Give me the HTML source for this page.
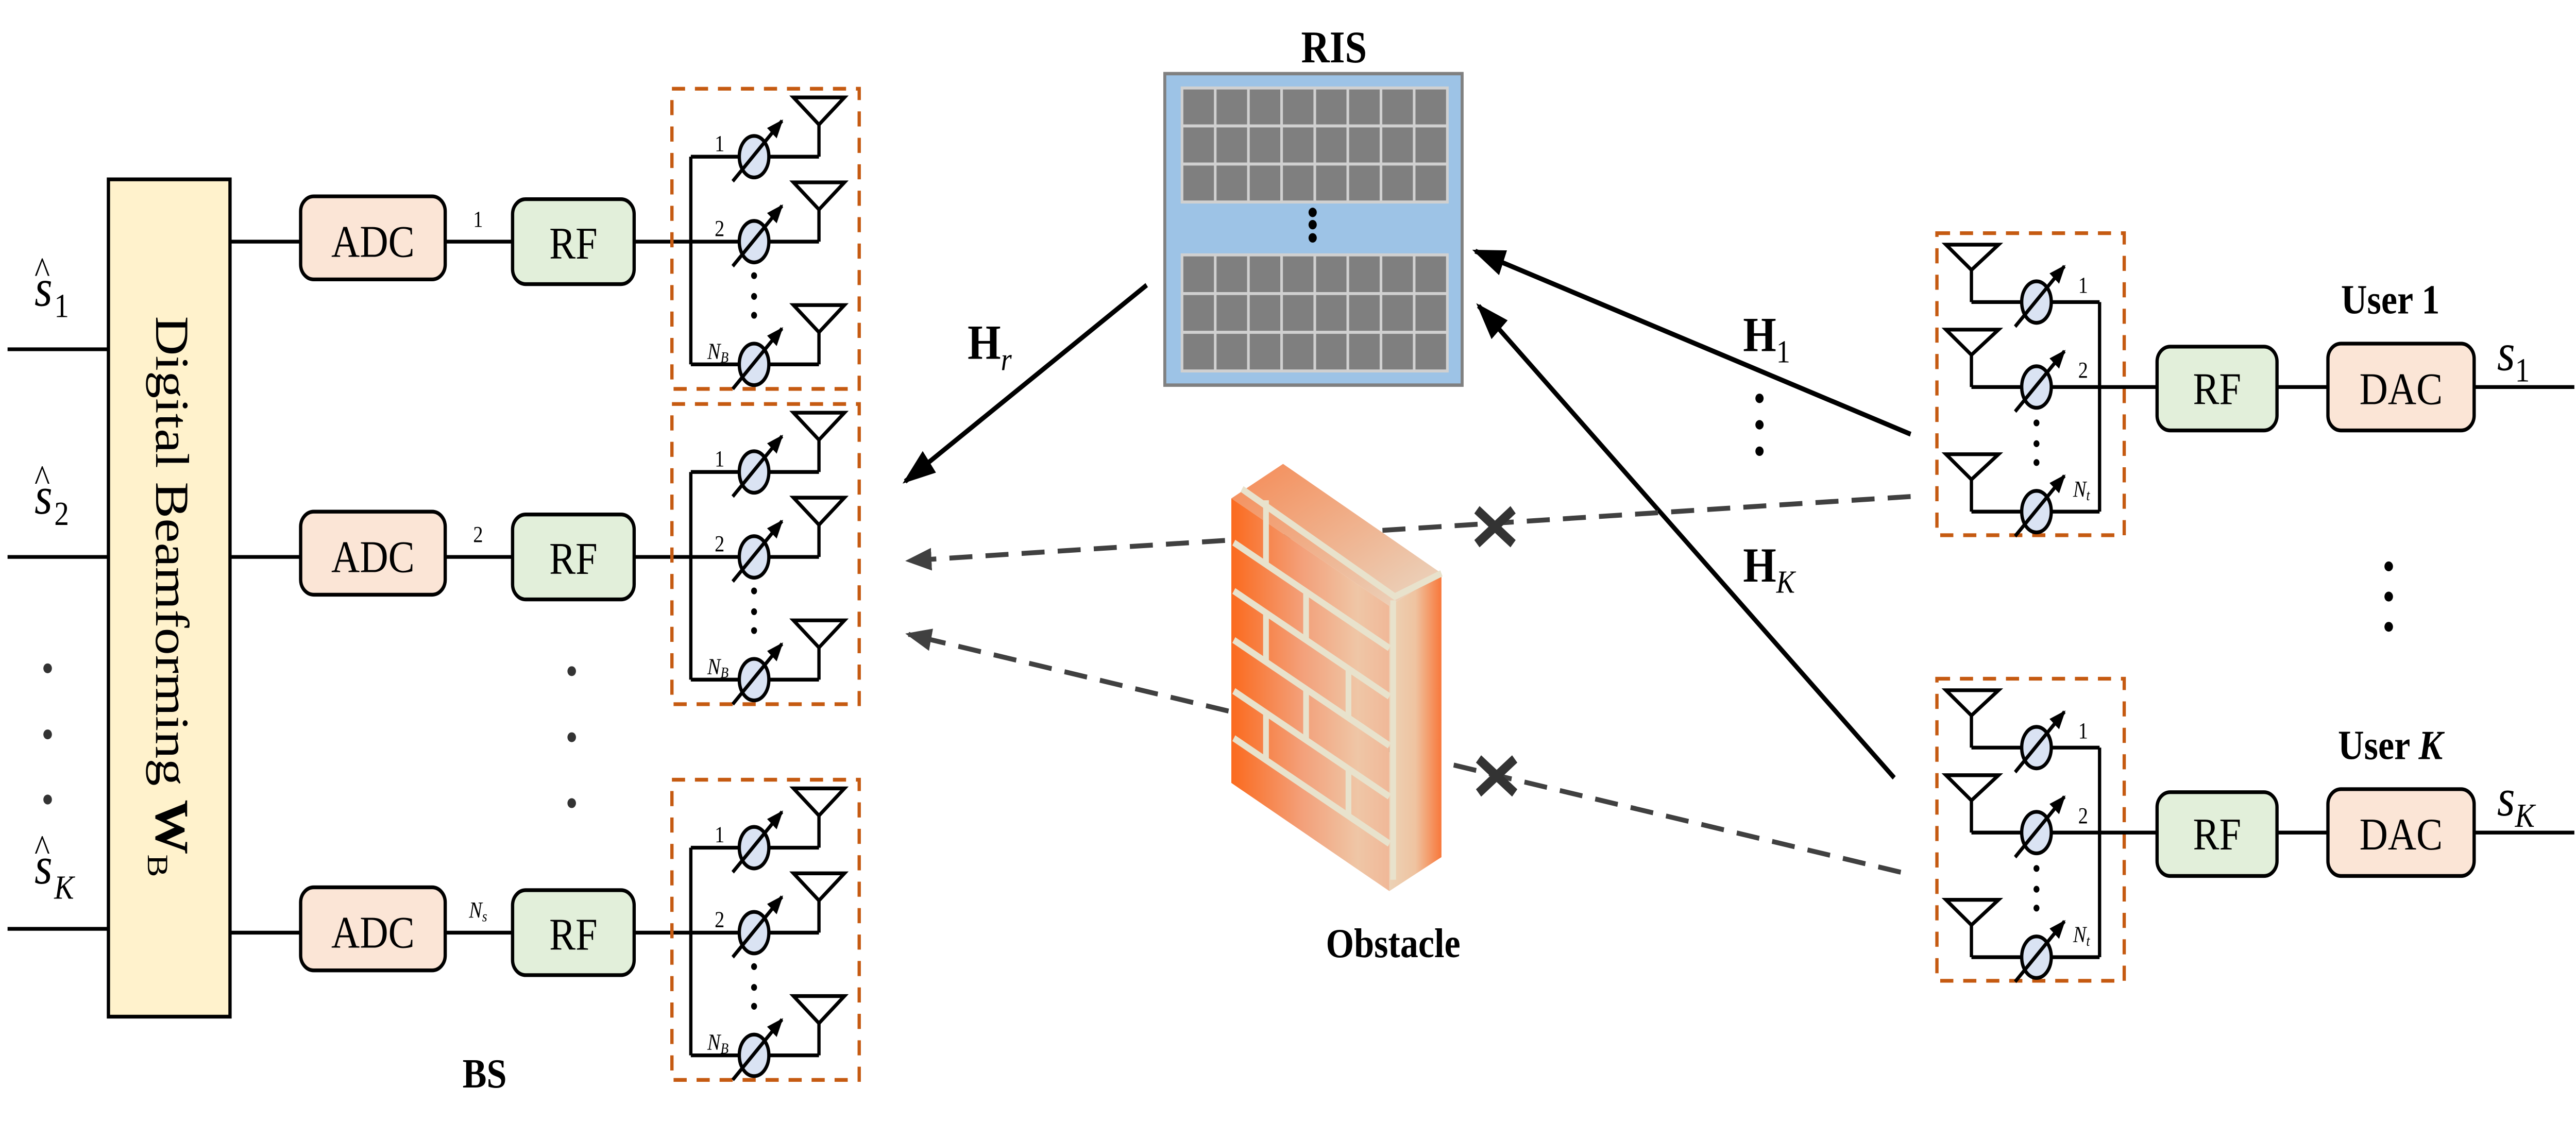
<!DOCTYPE html>
<html><head><meta charset="utf-8"><style>
html,body{margin:0;padding:0;background:#fff;width:100%;height:100%;overflow:hidden;}
svg{display:block;width:100vw;height:100vh;}
text{font-family:"Liberation Serif",serif;fill:#000;}
</style></head><body>
<svg viewBox="0 0 1568 594.3" preserveAspectRatio="none" xmlns="http://www.w3.org/2000/svg">
<defs>
<marker id="ah" markerUnits="userSpaceOnUse" markerWidth="20" markerHeight="14" refX="18" refY="7" orient="auto"><path d="M0,0 L20,7 L0,14 z" fill="#000"/></marker>
<marker id="ahd" markerUnits="userSpaceOnUse" markerWidth="16" markerHeight="12" refX="14" refY="6" orient="auto"><path d="M0,0 L16,6 L0,12 z" fill="#404040"/></marker>
<marker id="ahs" markerUnits="userSpaceOnUse" markerWidth="10" markerHeight="8" refX="9" refY="4" orient="auto"><path d="M0,0 L10,4 L0,8 z" fill="#000"/></marker>
<linearGradient id="gf" x1="0" y1="0" x2="1" y2="0"><stop offset="0" stop-color="#fb6a1e"/><stop offset="0.45" stop-color="#f3a07a"/><stop offset="0.8" stop-color="#efc6a6"/><stop offset="1" stop-color="#f0b898"/></linearGradient>
<linearGradient id="gs" x1="0" y1="0" x2="1" y2="0"><stop offset="0" stop-color="#ecd2b6"/><stop offset="0.5" stop-color="#efc3a0"/><stop offset="1" stop-color="#f8773a"/></linearGradient>
<linearGradient id="gt" x1="0" y1="0" x2="1" y2="1"><stop offset="0" stop-color="#f58a55"/><stop offset="1" stop-color="#ead8c4"/></linearGradient>
<g id="ps"><ellipse cx="0" cy="0" rx="9" ry="11" fill="#dae3f3" stroke="#000" stroke-width="2"/><line x1="-13" y1="13" x2="17" y2="-19" stroke="#000" stroke-width="2" marker-end="url(#ahs)"/></g>
<g id="bsant">
<rect x="409" y="47" width="114" height="159" fill="none" stroke="#c55a11" stroke-width="2" stroke-dasharray="8,6"/>
<line x1="420.5" y1="83" x2="420.5" y2="193" stroke="#000" stroke-width="2"/>
<g stroke="#000" stroke-width="2" fill="none">
<line x1="420.5" y1="83" x2="498.5" y2="83"/><line x1="498.5" y1="83" x2="498.5" y2="66"/><path d="M483,51.6 L514,51.6 L498.5,66 z"/>
<line x1="420.5" y1="128" x2="498.5" y2="128"/><line x1="498.5" y1="128" x2="498.5" y2="111"/><path d="M483,96.6 L514,96.6 L498.5,111 z"/>
<line x1="420.5" y1="193" x2="498.5" y2="193"/><line x1="498.5" y1="193" x2="498.5" y2="176"/><path d="M483,161.6 L514,161.6 L498.5,176 z"/>
</g>
<use href="#ps" x="459" y="83"/><use href="#ps" x="459" y="128"/><use href="#ps" x="459" y="193"/>
<circle cx="459" cy="146" r="1.8"/><circle cx="459" cy="157" r="1.8"/><circle cx="459" cy="167" r="1.8"/>
</g>
<g id="uant">
<rect x="1179" y="123.5" width="114" height="160" fill="none" stroke="#c55a11" stroke-width="2" stroke-dasharray="8,6"/>
<line x1="1278" y1="160" x2="1278" y2="271" stroke="#000" stroke-width="2"/>
<g stroke="#000" stroke-width="2" fill="none">
<line x1="1200" y1="160" x2="1278" y2="160"/><line x1="1200" y1="160" x2="1200" y2="143"/><path d="M1184.5,129.6 L1216.5,129.6 L1200,143 z"/>
<line x1="1200" y1="205" x2="1278" y2="205"/><line x1="1200" y1="205" x2="1200" y2="188"/><path d="M1184.5,174.6 L1216.5,174.6 L1200,188 z"/>
<line x1="1200" y1="271" x2="1278" y2="271"/><line x1="1200" y1="271" x2="1200" y2="254"/><path d="M1184.5,240.6 L1216.5,240.6 L1200,254 z"/>
<line x1="1278" y1="205" x2="1313" y2="205"/>
<line x1="1386" y1="205" x2="1417" y2="205"/>
<line x1="1506" y1="205" x2="1567" y2="205"/>
</g>
<use href="#ps" x="1239.6" y="160"/><use href="#ps" x="1239.6" y="205"/><use href="#ps" x="1239.6" y="271"/>
<circle cx="1239.6" cy="224" r="1.8"/><circle cx="1239.6" cy="235" r="1.8"/><circle cx="1239.6" cy="245" r="1.8"/>
<rect x="1313" y="183.6" width="73" height="44.4" rx="8" fill="#e2efda" stroke="#000" stroke-width="2"/>
<rect x="1417" y="182" width="89" height="46" rx="8" fill="#fbe5d6" stroke="#000" stroke-width="2"/>
</g>
<g id="bsrow">
<g stroke="#000" stroke-width="2"><line x1="140" y1="128" x2="183" y2="128"/><line x1="271" y1="128" x2="312" y2="128"/><line x1="386" y1="128" x2="420.5" y2="128"/></g>
<rect x="183" y="104" width="88" height="44" rx="8" fill="#fbe5d6" stroke="#000" stroke-width="2"/>
<rect x="312" y="105.5" width="74" height="45" rx="8" fill="#e2efda" stroke="#000" stroke-width="2"/>
</g>
</defs>

<g stroke="#000" stroke-width="2"><line x1="4.6" y1="185" x2="67" y2="185"/><line x1="4.6" y1="295" x2="67" y2="295"/><line x1="4.6" y1="492" x2="67" y2="492"/></g>
<circle cx="29" cy="354" r="2.6" fill="#333"/><circle cx="29" cy="389" r="2.6" fill="#333"/><circle cx="29" cy="423.5" r="2.6" fill="#333"/>
<circle cx="348" cy="355.5" r="2.6" fill="#333"/><circle cx="348" cy="390.5" r="2.6" fill="#333"/><circle cx="348" cy="425.4" r="2.6" fill="#333"/>

<rect x="66" y="95" width="74" height="443.5" fill="#fff2cc" stroke="#000" stroke-width="2"/>
<text transform="translate(95,316) rotate(90)" font-size="29" text-anchor="middle">Digital Beamforming <tspan font-weight="bold">W</tspan><tspan font-size="18" dy="5">B</tspan></text>

<text x="21" y="162" font-size="28" font-style="italic">s</text><text x="21" y="150" font-size="20">^</text><text x="33" y="168" font-size="18">1</text>
<text x="21" y="272" font-size="28" font-style="italic">s</text><text x="21" y="260" font-size="20">^</text><text x="33" y="278" font-size="18">2</text>
<text x="21" y="468" font-size="28" font-style="italic">s</text><text x="21" y="456" font-size="20">^</text><text x="33" y="476" font-size="18" font-style="italic">K</text>

<use href="#bsrow"/><use href="#bsrow" y="167"/><use href="#bsrow" y="366"/>
<use href="#bsant"/><use href="#bsant" y="167"/><use href="#bsant" y="366"/>
<g font-size="24" text-anchor="middle">
<text x="227" y="136">ADC</text><text x="349" y="137">RF</text>
<text x="227" y="303">ADC</text><text x="349" y="304">RF</text>
<text x="227" y="502">ADC</text><text x="349" y="503">RF</text>
</g>
<g font-size="12" text-anchor="middle">
<text x="291" y="120">1</text><text x="291" y="287">2</text><text x="291" y="486" font-style="italic">N<tspan font-size="8" dy="2">s</tspan></text>
<text x="438" y="80">1</text><text x="438" y="125">2</text><text x="437" y="190" font-style="italic">N<tspan font-size="8" dy="2">B</tspan></text>
<text x="438" y="247">1</text><text x="438" y="292">2</text><text x="437" y="357" font-style="italic">N<tspan font-size="8" dy="2">B</tspan></text>
<text x="438" y="446">1</text><text x="438" y="491">2</text><text x="437" y="556" font-style="italic">N<tspan font-size="8" dy="2">B</tspan></text>
</g>
<text x="295" y="576" font-size="22" font-weight="bold" text-anchor="middle">BS</text>

<text x="812" y="33" font-size="24" font-weight="bold" text-anchor="middle">RIS</text>
<rect x="709" y="39" width="181" height="165" fill="#9dc3e6" stroke="#808080" stroke-width="1.8"/>
<g fill="#7f7f7f" stroke="#d0d0d0" stroke-width="1.6">
<rect x="719.5" y="46.6" width="161.5" height="60.4"/><rect x="719.5" y="135" width="161.5" height="61.5"/>
</g>
<g stroke="#d0d0d0" stroke-width="1.6">
<line x1="739.7" y1="46.6" x2="739.7" y2="107"/><line x1="759.9" y1="46.6" x2="759.9" y2="107"/><line x1="780.1" y1="46.6" x2="780.1" y2="107"/><line x1="800.3" y1="46.6" x2="800.3" y2="107"/><line x1="820.4" y1="46.6" x2="820.4" y2="107"/><line x1="840.6" y1="46.6" x2="840.6" y2="107"/><line x1="860.8" y1="46.6" x2="860.8" y2="107"/>
<line x1="719.5" y1="66.7" x2="881" y2="66.7"/><line x1="719.5" y1="86.9" x2="881" y2="86.9"/>
<line x1="739.7" y1="135" x2="739.7" y2="196.5"/><line x1="759.9" y1="135" x2="759.9" y2="196.5"/><line x1="780.1" y1="135" x2="780.1" y2="196.5"/><line x1="800.3" y1="135" x2="800.3" y2="196.5"/><line x1="820.4" y1="135" x2="820.4" y2="196.5"/><line x1="840.6" y1="135" x2="840.6" y2="196.5"/><line x1="860.8" y1="135" x2="860.8" y2="196.5"/>
<line x1="719.5" y1="155.5" x2="881" y2="155.5"/><line x1="719.5" y1="176" x2="881" y2="176"/>
</g>
<circle cx="799" cy="112.5" r="2.5"/><circle cx="799" cy="119" r="2.5"/><circle cx="799" cy="126" r="2.5"/>

<g stroke="#000" stroke-width="2.6">
<line x1="698" y1="151" x2="551" y2="255" marker-end="url(#ah)"/>
<line x1="1163" y1="230" x2="898" y2="133" marker-end="url(#ah)"/>
<line x1="1153" y1="412" x2="900" y2="162" marker-end="url(#ah)"/>
</g>
<text x="589" y="190" font-size="26" font-weight="bold">H<tspan font-size="17" font-weight="normal" font-style="italic" dy="6">r</tspan></text>
<text x="1061" y="186" font-size="26" font-weight="bold">H<tspan font-size="17" font-weight="normal" dy="6">1</tspan></text>
<text x="1061" y="308" font-size="26" font-weight="bold">H<tspan font-size="17" font-weight="normal" font-style="italic" dy="6">K</tspan></text>
<circle cx="1071" cy="211" r="2.5"/><circle cx="1071" cy="225" r="2.5"/><circle cx="1071" cy="239" r="2.5"/>

<g stroke="#404040" stroke-width="2.6" stroke-dasharray="14,8">
<line x1="1163" y1="263" x2="553" y2="297" marker-end="url(#ahd)"/>
<line x1="1157" y1="462" x2="553" y2="336" marker-end="url(#ahd)"/>
</g>

<path d="M749.5,264 L781,245.7 L877.4,303.7 L845.7,321 z" fill="url(#gt)"/>
<path d="M749.5,264 L845.7,321 L845.7,472 L749.5,414.7 z" fill="url(#gf)"/>
<path d="M845.7,321 L877.4,303.7 L877.4,454 L845.7,472 z" fill="url(#gs)"/>
<g stroke="#e8e2cc" stroke-width="3.5" fill="none">
<path d="M756,259 L849,316 L877.4,303.7"/>
<line x1="848" y1="318" x2="848" y2="466"/>
<line x1="751" y1="287.4" x2="845.7" y2="343.3"/>
<line x1="751" y1="313" x2="845.7" y2="368.9"/>
<line x1="751" y1="339" x2="845.7" y2="394.9"/>
<line x1="751" y1="366" x2="845.7" y2="421.9"/>
<line x1="751" y1="391" x2="845.7" y2="446.9"/>
<line x1="770.6" y1="265" x2="770.6" y2="299"/>
<line x1="795" y1="313" x2="795" y2="339"/>
<line x1="770.6" y1="324.5" x2="770.6" y2="350.5"/>
<line x1="820.8" y1="354" x2="820.8" y2="380"/>
<line x1="795" y1="365" x2="795" y2="392"/>
<line x1="770.6" y1="377.5" x2="770.6" y2="402.5"/>
<line x1="820.8" y1="407" x2="820.8" y2="432"/>
</g>
<text x="848" y="507" font-size="22" font-weight="bold" text-anchor="middle">Obstacle</text>

<g stroke="#333" stroke-width="5">
<line x1="899" y1="270" x2="921" y2="288"/><line x1="921" y1="270" x2="899" y2="288"/>
<line x1="900" y1="402" x2="922" y2="420"/><line x1="922" y1="402" x2="900" y2="420"/>
</g>

<use href="#uant"/><use href="#uant" y="236"/>
<g font-size="24" text-anchor="middle">
<text x="1349.5" y="214">RF</text><text x="1461.5" y="214">DAC</text>
<text x="1349.5" y="450">RF</text><text x="1461.5" y="450">DAC</text>
</g>
<g font-size="12" text-anchor="middle">
<text x="1268" y="155">1</text><text x="1268" y="200">2</text><text x="1267" y="263" font-style="italic">N<tspan font-size="8" dy="2">t</tspan></text>
<text x="1268" y="391">1</text><text x="1268" y="436">2</text><text x="1267" y="499" font-style="italic">N<tspan font-size="8" dy="2">t</tspan></text>
</g>
<text x="1455" y="166" font-size="22" font-weight="bold" text-anchor="middle">User 1</text>
<text x="1455" y="402" font-size="22" font-weight="bold" text-anchor="middle">User <tspan font-style="italic">K</tspan></text>
<text x="1520" y="196" font-size="28" font-style="italic">s<tspan font-size="18" font-style="normal" dy="6">1</tspan></text>
<text x="1520" y="432" font-size="28" font-style="italic">s<tspan font-size="18" dy="6">K</tspan></text>
<circle cx="1454" cy="300" r="2.6" fill="#000"/><circle cx="1454" cy="316" r="2.6" fill="#000"/><circle cx="1454" cy="332" r="2.6" fill="#000"/>
</svg>
</body></html>
